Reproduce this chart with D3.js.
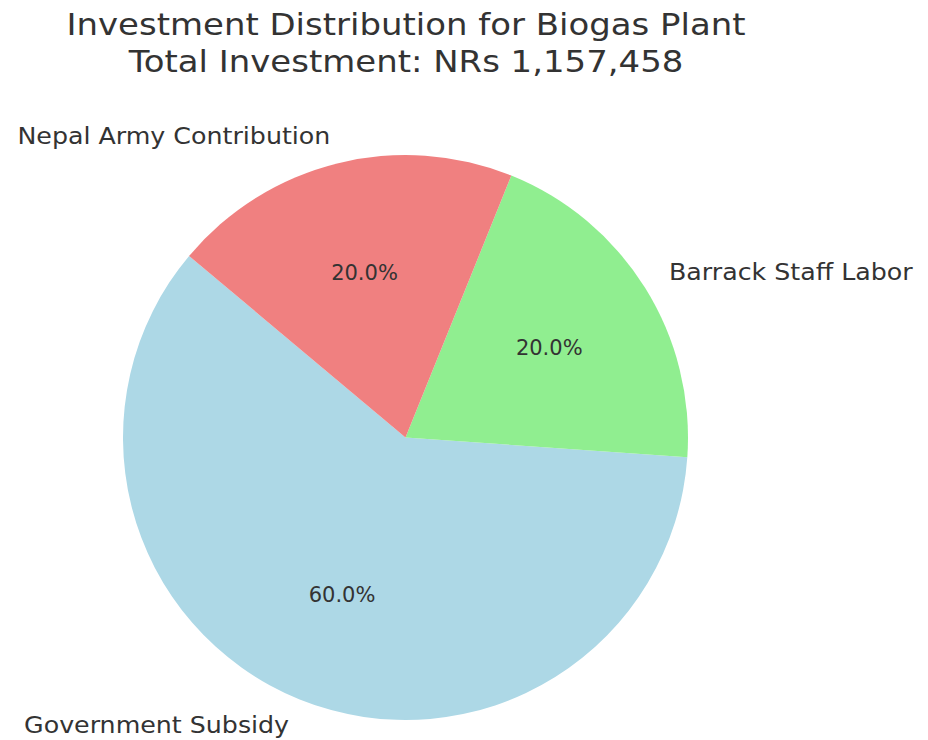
<!DOCTYPE html>
<html>
<head>
<meta charset="utf-8">
<script src="https://cdn.jsdelivr.net/npm/d3@7"></script>
<style>
  html, body { margin: 0; padding: 0; background: #fff; }
  svg { display: block; font-family: "DejaVu Sans", sans-serif; }
</style>
</head>
<body>
<svg id="chart" width="928" height="740"></svg>
<script>
// Funding sources for the biogas plant (order = drawing order, counter-clockwise)
const categories = ["Government Subsidy", "Barrack Staff Labor", "Nepal Army Contribution"];
const shares = [60, 20, 20];           // percent of total investment
const colors = ["#ADD8E6", "#90EE90", "#F08080"];
const totalInvestment = "1,157,458";
const titleLines = ["Investment Distribution for Biogas Plant", "Total Investment: NRs " + totalInvestment];

const width = 928, height = 740;
const cx = 405.5, cy = 437.5, radius = 282.5;
const startDeg = 140;                  // first wedge starts here (math convention)
const textColor = "#333";

const svg = d3.select("#chart");

// Title (slightly widened glyphs)
const titleG = svg.append("g")
  .attr("transform", `translate(406,34.5) scale(1.095,1)`);
titleG.selectAll("text")
  .data(titleLines)
  .join("text")
  .attr("x", 0)
  .attr("y", (d, i) => i * 37.5)
  .attr("text-anchor", "middle")
  .attr("fill", textColor)
  .style("font-size", "31px")
  .text(d => d);

// d3 angles: 0 at 12 o'clock, clockwise. Convert and run counter-clockwise.
const toRad = Math.PI / 180;
const pie = d3.pie()
  .sort(null)
  .value(d => d.value)
  .startAngle((90 - startDeg) * toRad)
  .endAngle((90 - startDeg - 360) * toRad);

const data = categories.map((c, i) => ({ name: c, value: shares[i], color: colors[i] }));
const arcs = pie(data);

const arc = d3.arc().innerRadius(0).outerRadius(radius);

const g = svg.append("g").attr("transform", `translate(${cx},${cy})`);

g.selectAll("path.slice")
  .data(arcs)
  .join("path")
  .attr("class", "slice")
  .attr("d", arc)
  .attr("fill", d => d.data.color);

const total = d3.sum(shares);
const midPoint = (d, r) => {
  const a = (d.startAngle + d.endAngle) / 2;
  return [Math.sin(a) * r, -Math.cos(a) * r];
};

// Percentage labels inside wedges
g.selectAll("text.pct")
  .data(arcs)
  .join("text")
  .attr("class", "pct")
  .attr("x", d => midPoint(d, radius * 0.6)[0])
  .attr("y", d => midPoint(d, radius * 0.6)[1])
  .attr("text-anchor", "middle")
  .attr("dominant-baseline", "central")
  .attr("fill", textColor)
  .style("font-size", "21px")
  .text(d => (d.data.value / total * 100).toFixed(1) + "%");

// Category labels outside wedges (slightly widened glyphs)
g.selectAll("g.cat")
  .data(arcs)
  .join("g")
  .attr("class", "cat")
  .attr("transform", d => {
    const [x, y] = midPoint(d, radius * 1.1);
    return `translate(${x},${y}) scale(1.1,1)`;
  })
  .append("text")
  .attr("text-anchor", d => midPoint(d, 1)[0] < 0 ? "end" : "start")
  .attr("dominant-baseline", "central")
  .attr("fill", textColor)
  .style("font-size", "23px")
  .text(d => d.data.name);
</script>
</body>
</html>
